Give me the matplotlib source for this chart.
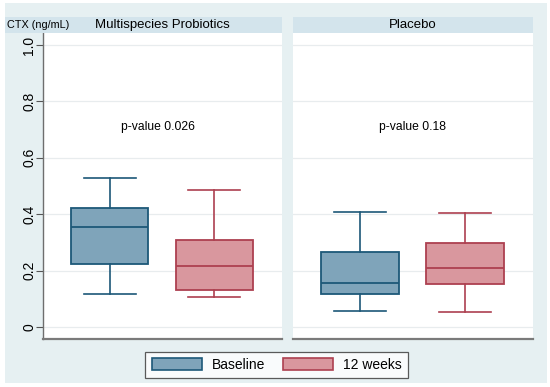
import matplotlib.pyplot as plt
from matplotlib.patches import Rectangle, Patch

plt.rcParams['font.family'] = ['Liberation Sans', 'DejaVu Sans']

# Data: whisker low, Q1, median, Q3, whisker high
groups = ['Multispecies Probiotics', 'Placebo']
series = ['Baseline', '12 weeks']
baseline = {
    'Multispecies Probiotics': [0.117, 0.225, 0.355, 0.421, 0.528],
    'Placebo': [0.057, 0.116, 0.155, 0.267, 0.409],
}
week12 = {
    'Multispecies Probiotics': [0.106, 0.130, 0.218, 0.309, 0.485],
    'Placebo': [0.054, 0.154, 0.210, 0.299, 0.403],
}
p_values = ['p-value 0.026', 'p-value 0.18']
p_x = [1.46, 1.5]
yticks = [0, 0.2, 0.4, 0.6, 0.8, 1.0]
ytick_labels = ['0', '0.2', '0.4', '0.6', '0.8', '1.0']

fills = ['#7fa4ba', '#d9979e']
edges = ['#1d5878', '#ad4050']
bg = '#e6f0f2'
header = '#d3e4ec'

W, H = 550, 387
fig = plt.figure(figsize=(W / 100, H / 100), dpi=100)
fig.patch.set_facecolor('white')


def fx(px):
    return px / W


def fy(py):
    return 1 - py / H


# outer light background
fig.add_artist(Rectangle((fx(5), fy(383)), fx(542), 380 / H, transform=fig.transFigure,
                         facecolor=bg, edgecolor='none', zorder=0))

panels = [(43, 282), (293, 533)]
top, bottom = 33, 339

for i, g in enumerate(groups):
    x0, x1 = panels[i]
    # header strip
    hx0 = 5 if i == 0 else x0
    fig.add_artist(Rectangle((fx(hx0), fy(top)), fx(x1 - hx0), 16 / H, transform=fig.transFigure,
                             facecolor=header, edgecolor='none', zorder=1))
    fig.text(fx((x0 + x1) / 2), fy(25), g, ha='center', va='center', fontsize=9.5)

    ax = fig.add_axes([fx(x0), fy(bottom), fx(x1 - x0), (bottom - top) / H])
    ax.set_facecolor('white')
    stats = []
    for vals, lab in [(baseline[g], series[0]), (week12[g], series[1])]:
        lo, q1, med, q3, hi = vals
        stats.append({'whislo': lo, 'q1': q1, 'med': med, 'q3': q3, 'whishi': hi,
                      'fliers': [], 'label': lab})
    bp = ax.bxp(stats, positions=[1, 2], widths=0.74, patch_artist=True,
                showfliers=False, capwidths=0.5)
    for j in range(2):
        bp['boxes'][j].set_facecolor(fills[j])
        bp['boxes'][j].set_edgecolor(edges[j])
        bp['boxes'][j].set_linewidth(1.3)
        bp['medians'][j].set_color(edges[j])
        bp['medians'][j].set_linewidth(1.3)
        for k in (2 * j, 2 * j + 1):
            bp['whiskers'][k].set_color(edges[j])
            bp['whiskers'][k].set_linewidth(1.2)
            bp['caps'][k].set_color(edges[j])
            bp['caps'][k].set_linewidth(1.2)

    ax.set_xlim(0.362, 2.648)
    ax.set_ylim(-0.0426, 1.043)
    ax.set_yticks(yticks)
    ax.grid(axis='y', color='#e8ecee', linewidth=0.9)
    ax.set_axisbelow(True)
    ax.set_xticks([])
    for s in ['top', 'right']:
        ax.spines[s].set_visible(False)
    ax.spines['bottom'].set_color('#7a7a7a')
    ax.spines['bottom'].set_linewidth(1.6)
    if i == 0:
        ax.set_yticklabels(ytick_labels, rotation=90, va='center', fontsize=10)
        ax.spines['left'].set_color('#6e6e6e')
        ax.spines['left'].set_linewidth(1.0)
        ax.tick_params(axis='y', length=5, color='#555555', pad=0)
    else:
        ax.spines['left'].set_visible(False)
        ax.tick_params(axis='y', length=0, labelleft=False)

    ax.text(p_x[i], 0.71, p_values[i], ha='center', va='center', fontsize=8.7)

fig.text(fx(7), fy(25), 'CTX (ng/mL)', ha='left', va='center', fontsize=7.8)

handles = [Patch(facecolor=fills[j], edgecolor=edges[j], linewidth=1.2, label=series[j])
           for j in range(2)]
leg = fig.legend(handles=handles, loc='center', bbox_to_anchor=(fx(276.5), fy(365)), ncol=2,
                 fontsize=10, frameon=True, fancybox=False, handlelength=3.6,
                 handleheight=1.0, handletextpad=0.7, columnspacing=1.3,
                 borderpad=0.45, borderaxespad=0)
leg.get_frame().set_edgecolor('#333333')
leg.get_frame().set_linewidth(0.9)

fig.savefig('out.png', dpi=100)
